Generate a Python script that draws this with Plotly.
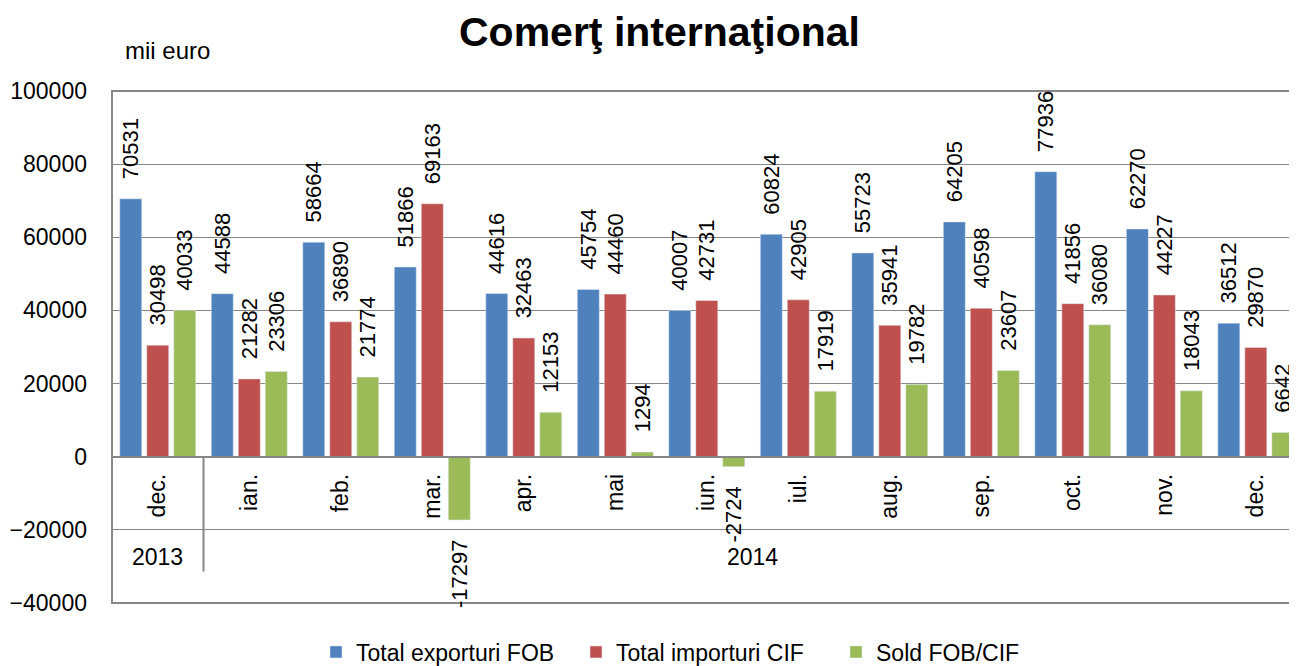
import plotly.graph_objects as go

months = ["dec.", "ian.", "feb.", "mar.", "apr.", "mai", "iun.", "iul.", "aug.", "sep.", "oct.", "nov.", "dec."]
years = ["2013", "2014"]
export_fob = [70531, 44588, 58664, 51866, 44616, 45754, 40007, 60824, 55723, 64205, 77936, 62270, 36512]
import_cif = [30498, 21282, 36890, 69163, 32463, 44460, 42731, 42905, 35941, 40598, 41856, 44227, 29870]
sold_fob_cif = [40033, 23306, 21774, -17297, 12153, 1294, -2724, 17919, 19782, 23607, 36080, 18043, 6642]
y_ticks = [-40000, -20000, 0, 20000, 40000, 60000, 80000, 100000]

FONT = "Liberation Sans"
GRID = "#878787"
NB = "\u00a0"
PAD = NB * 2 + "\u2009"


def labels(vals):
    return [(PAD + str(v)) if v >= 0 else (str(v) + PAD) for v in vals]


idx = list(range(len(months)))
fig = go.Figure()
series = [
    ("Total exporturi FOB", export_fob, "#4F81BD"),
    ("Total importuri CIF", import_cif, "#C0504D"),
    ("Sold FOB/CIF", sold_fob_cif, "#9BBB59"),
]
for name, vals, col in series:
    fig.add_bar(
        x=idx, y=vals, name=name, marker_color=col,
        text=labels(vals), textposition="outside", textangle=-90,
        textfont=dict(family=FONT, size=22, color="black"),
        cliponaxis=False, constraintext="none",
    )

# page body has an 8px margin: figure is shifted by 8px, so compensate
fig.update_layout(
    width=1289, height=658,
    margin=dict(l=104, r=0, t=83, b=63, autoexpand=False),
    plot_bgcolor="white", paper_bgcolor="white",
    barmode="group", bargap=0.115, bargroupgap=0.185,
    font=dict(family=FONT, size=23, color="black"),
    showlegend=True,
    legend=dict(orientation="h", x=(666 - 112 + 40) / 1185, xanchor="center",
                y=-(652 - 603) / 512, yanchor="middle",
                font=dict(family=FONT, size=23, color="black"), itemwidth=30,
                entrywidthmode="pixels", entrywidth=215),
)
fig.update_yaxes(
    range=[-40000, 100000], tickvals=y_ticks, tickformat="d",
    showgrid=True, gridcolor=GRID, gridwidth=1, zeroline=False, automargin=False,
    ticks="", ticklabelstandoff=24, tickfont=dict(size=23),
)
fig.update_xaxes(
    range=[-0.5, 12.45], anchor="free", position=40000 / 140000, automargin=False,
    tickmode="array", tickvals=idx, ticktext=months, tickangle=-90,
    showline=True, linecolor=GRID, linewidth=2, ticks="", showgrid=False,
    ticklabelstandoff=7, tickfont=dict(size=23),
)

# frame and separators
fig.add_shape(type="rect", xref="paper", yref="paper", x0=0, x1=1.02, y0=0, y1=1,
              line=dict(color=GRID, width=2), layer="below")
fig.add_shape(type="line", xref="x", yref="y", x0=0.5, x1=0.5, y0=0, y1=-31400,
              line=dict(color=GRID, width=2))

fig.add_annotation(text=years[0], x=0, y=-27300, xref="x", yref="y", showarrow=False,
                   font=dict(size=23), xanchor="center", yanchor="middle")
fig.add_annotation(text=years[1], x=6.5, y=-27300, xref="x", yref="y", showarrow=False,
                   font=dict(size=23), xanchor="center", yanchor="middle")

fig.add_annotation(text="<b>Comerţ internaţional</b>", xref="paper", yref="paper",
                   x=(659 - 112) / 1185, y=1 + (91 - 32) / 512,
                   xanchor="center", yanchor="middle", showarrow=False,
                   font=dict(size=41, family=FONT))
fig.add_annotation(text="mii euro", xref="paper", yref="paper",
                   x=(123 - 112) / 1185, y=1 + (91 - 50) / 512,
                   xanchor="left", yanchor="middle", showarrow=False,
                   font=dict(size=24, family=FONT))

fig.write_html("out.html")
